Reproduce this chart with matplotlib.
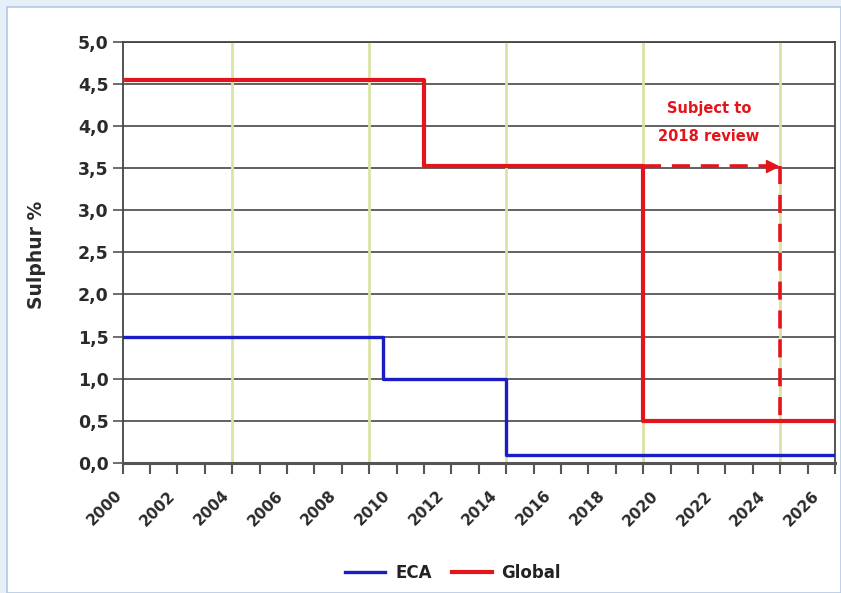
import matplotlib
matplotlib.use("Agg")
import matplotlib.pyplot as plt
from matplotlib.patches import Rectangle
import numpy as np

# data (x = position on the year axis, one tick per year)
eca_years = [2000, 2009.5, 2014, 2026]
eca_sulphur = [1.5, 1.0, 0.1, 0.1]

global_years = [2000, 2011, 2019, 2026]
global_sulphur = [4.54, 3.52, 0.5, 0.5]

# alternative 2025 date, subject to 2018 review
review_years = [2019, 2024]
review_level = 3.52
review_to = 0.5

green_lines = [2004, 2009, 2014, 2019, 2024]
label_years = list(range(2000, 2027, 2))

red = "#e3141c"
blue = "#1c1cc4"
txt = "#2a2a2a"

fig = plt.figure(figsize=(8.41, 5.93), dpi=100)
fig.patch.set_facecolor("#e6eef8")
fig.patches.append(Rectangle((7 / 841, 0), 834 / 841, 586 / 593, transform=fig.transFigure,
                             facecolor="white", edgecolor="#b4c8e4", linewidth=1.2, zorder=-10))

ax = fig.add_axes([122.7 / 841, 1 - 463 / 593, (835 - 122.7) / 841, (463 - 41.7) / 593])
ax.set_facecolor("none")

# grid
for yv in np.arange(0.5, 5.01, 0.5):
    ax.axhline(yv, color="#555555", lw=1.3, zorder=1)
for xv in green_lines:
    ax.axvline(xv, color="#dde2a6", lw=2, zorder=1)

ax.step(eca_years, eca_sulphur, where="post", color=blue, lw=2.4, label="ECA", zorder=3)
ax.step(global_years, global_sulphur, where="post", color=red, lw=3, label="Global", zorder=4)

# dashed review path
ax.plot([review_years[0], review_years[1] - 0.3], [review_level, review_level],
        color=red, lw=2.6, ls=(0, (5, 3)), zorder=4)
ax.plot([review_years[1] - 0.3], [review_level], marker=">", color=red, ms=8, zorder=5)
ax.plot([review_years[1], review_years[1]], [review_level, review_to],
        color=red, lw=2.6, ls=(0, (5, 3)), zorder=4)
ax.text(2021.4, 4.04, "Subject to\n2018 review", color=red, fontsize=10.5,
        fontweight="bold", ha="center", va="center", linespacing=2.1)

# axes styling
for s in ["top", "right", "left"]:
    ax.spines[s].set_color("#444444")
    ax.spines[s].set_linewidth(1.3)
ax.spines["bottom"].set_color("#555555")
ax.spines["bottom"].set_linewidth(2.2)

ax.set_yticks(np.arange(0, 5.01, 0.5))
ax.set_yticklabels([f"{v:.1f}".replace(".", ",") for v in np.arange(0, 5.01, 0.5)],
                   fontsize=12.5, fontweight="bold", color=txt)
ax.tick_params(axis="y", length=7, width=1.2, color="#555555", pad=3)

ax.xaxis.remove_overlapping_locs = False
ax.set_xticks(np.arange(2000, 2027, 1), minor=True)
ax.tick_params(axis="x", which="minor", length=8, width=1.5, color="#555555")
label_pos = [2000 + (y - 2000) * 0.979 for y in label_years]
ax.set_xticks(label_pos)
ax.set_xticklabels([str(y) for y in label_years], rotation=45, ha="right", va="baseline",
                   rotation_mode="anchor", fontsize=11, fontweight="bold", color=txt)
ax.tick_params(axis="x", which="major", length=0, pad=24)

ax.set_xlim(2000, 2026)
ax.set_ylim(0, 5)

fig.text(36 / 841, 1 - 255 / 593, "Sulphur %", rotation=90, ha="center", va="center",
         fontsize=13.5, fontweight="bold", color=txt)

leg = fig.legend(loc="center", bbox_to_anchor=(453 / 841, 20 / 593), ncol=2, frameon=False,
                 handlelength=2.4, columnspacing=1.2, handletextpad=0.6,
                 prop={"size": 12, "weight": "bold"})
for t in leg.get_texts():
    t.set_color("#222222")

plt.savefig("out.png", dpi=100)
plt.close("all")
